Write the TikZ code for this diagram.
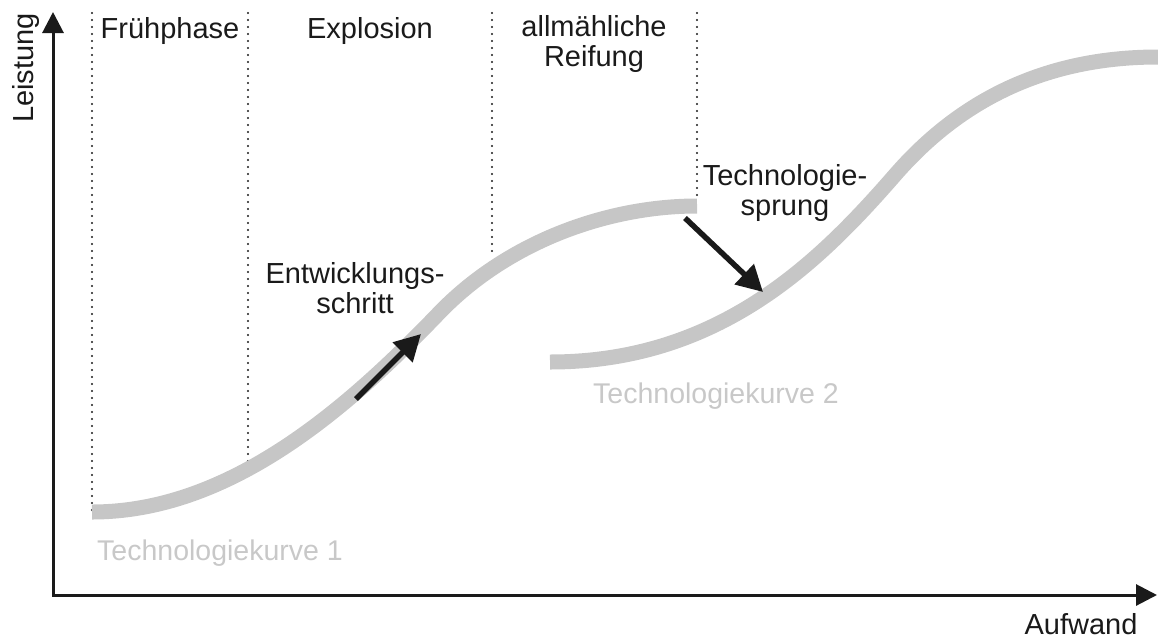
\documentclass[tikz,border=0pt]{standalone}
\usepackage{fontspec}
\setmainfont{Liberation Sans}
\usetikzlibrary{arrows.meta}
\definecolor{curvegray}{RGB}{198,198,198}
\definecolor{labelgray}{RGB}{200,200,200}
\definecolor{ink}{RGB}{26,26,26}
\begin{document}
\begin{tikzpicture}[x=1pt,y=-1pt,
  lbl/.style={inner sep=0pt, text=ink, font=\fontsize{29}{30}\selectfont, align=center},
  curvelbl/.style={lbl, text=labelgray, font=\fontsize{28.5}{30}\selectfont},
  axis/.style={draw=ink, line width=3pt, line join=miter},
  phase/.style={draw=ink, line width=2.3pt, line cap=round, dash pattern=on 0pt off 7pt},
  scurve/.style={draw=curvegray, line width=15pt, line cap=butt},
  move/.style={draw=ink, line width=5.5pt, -{Triangle[length=26pt,width=27pt]}}]
\useasboundingbox (0,0) rectangle (1158,640);

% axes
\coordinate (origin) at (53,595);
\coordinate (ytip) at (53,12);
\coordinate (xtip) at (1157,595);
\draw[axis, {Triangle[length=21pt,width=21pt]}-{Triangle[length=21pt,width=21pt]}]
  (ytip) -- (origin) -- (xtip);
\node[lbl, rotate=90, anchor=base] (ylabel) at (33,68) {Leistung};
\node[lbl, anchor=base] (xlabel) at (1081,634) {Aufwand};

% phase separators
\coordinate (s1t) at (92,13);   \coordinate (s1b) at (92,512);
\coordinate (s2t) at (248,13);  \coordinate (s2b) at (248,470);
\coordinate (s3t) at (492,13);  \coordinate (s3b) at (492,257);
\coordinate (s4t) at (697,13);  \coordinate (s4b) at (697,198);
\draw[phase] (s1t) -- (s1b);
\draw[phase] (s2t) -- (s2b);
\draw[phase] (s3t) -- (s3b);
\draw[phase] (s4t) -- (s4b);

% phase names (a two-line node sits on the baseline of its last line)
\node[lbl, anchor=base] (early) at (170,38) {Frühphase};
\node[lbl, anchor=base] (boom) at (370,38) {Explosion};
\node[lbl, anchor=base] (mature) at (594,66) {allmähliche\\Reifung};

% technology curves
\draw[scurve] (92,512) .. controls (230,512) and (348,408) .. (440,312)
  .. controls (510,240) and (610,206) .. (697,206);
\draw[scurve] (550,362) .. controls (720,362) and (820,261) .. (895,175)
  .. controls (955,106) and (1038,57) .. (1158,57);
\node[curvelbl, anchor=base] (c1lbl) at (220,560) {Technologiekurve 1};
\node[curvelbl, anchor=base] (c2lbl) at (716,403) {Technologiekurve 2};

% steps
\coordinate (stepA) at (356,399);
\coordinate (stepB) at (421,334);
\draw[move] (stepA) -- (stepB);
\node[lbl, anchor=base] (steplbl) at (355,313) {Entwicklungs-\\schritt};

\coordinate (jumpA) at (685,218);
\coordinate (jumpB) at (763,292);
\draw[move] (jumpA) -- (jumpB);
\node[lbl, anchor=base] (jumplbl) at (785,215) {Technologie-\\sprung};
\end{tikzpicture}
\end{document}
